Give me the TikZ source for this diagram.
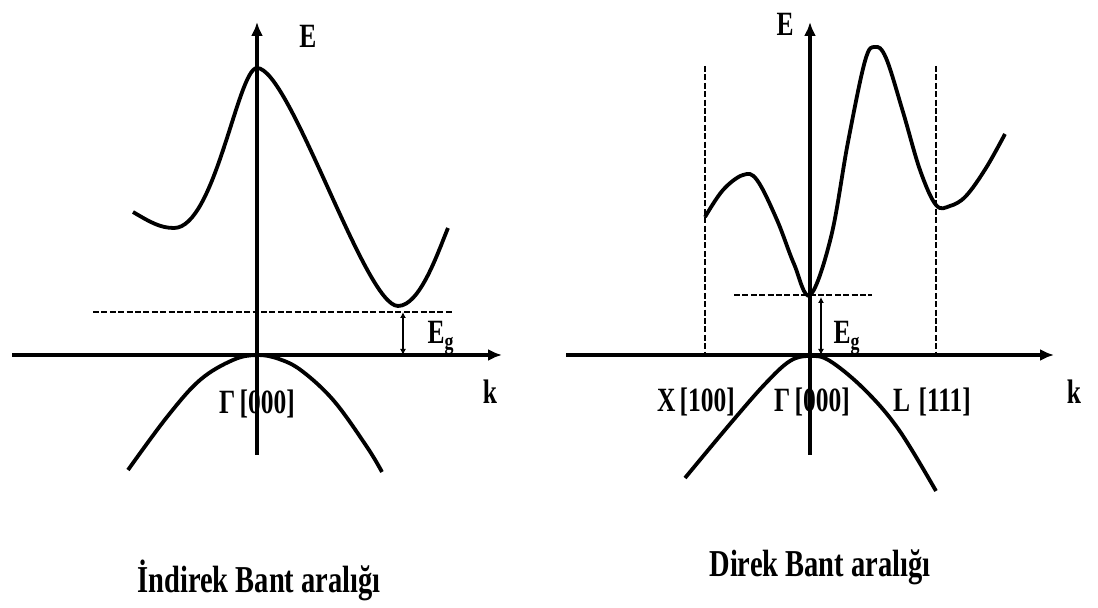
\documentclass[tikz,border=0pt]{standalone}
\usepackage{fontspec}
\setmainfont{Liberation Serif}
\usepackage{graphicx}
\usetikzlibrary{arrows.meta, positioning}
\tikzset{
  axisline/.style={line width=2.2pt, -{Latex[length=7pt, width=6pt]}},
  bandcurve/.style={line width=1.9pt},
  gapline/.style={line width=1.3pt, dash pattern=on 3pt off 1.2pt},
  gaparrow/.style={line width=1.1pt,
    {Latex[length=3pt, width=3pt]}-{Latex[length=3pt, width=3pt]}},
  axislabel/.style={font=\bfseries\fontsize{17}{19}\selectfont},
  pointlabel/.style={font=\bfseries\fontsize{17}{19}\selectfont},
  titlelabel/.style={font=\bfseries\fontsize{19}{21}\selectfont},
}
\newcommand{\narrowtext}[1]{\scalebox{0.75}[1]{#1}}

\begin{document}
\begin{tikzpicture}[x=0.5pt, y=-0.5pt]
  \useasboundingbox (0,0) rectangle (1098,608);

  % Left: indirect band gap
  \coordinate (lkstart) at (12,355);
  \coordinate (lkend) at (502,355);
  \coordinate (lEstart) at (257,455);
  \coordinate (lEend) at (257,22);
  \draw[axisline] (lkstart) -- (lkend);
  \draw[axisline] (lEstart) -- (lEend);
  \node[axislabel] (lE) at (308,36) {\narrowtext{E}};
  \node[axislabel] (lk) at (490,392) {\narrowtext{k}};

  % conduction and valence bands
  \draw[bandcurve] (133,212) .. controls (150,222) and (160,228) .. (174,228)
    .. controls (215,228) and (238,68) .. (257,68)
    .. controls (290,68) and (365,306) .. (398,306)
    .. controls (420,306) and (438,252) .. (448,228);
  \draw[bandcurve] plot[smooth, tension=0.6] coordinates {
    (128,470) (167,417) (200,380) (233,360) (257,355)
    (279,359) (302,371) (334,401) (367,447) (382,472)};

  % gap
  \coordinate (ldashl) at (93,312);
  \coordinate (ldashr) at (454,312);
  \draw[gapline] (ldashl) -- (ldashr);
  \coordinate (lgaptop) at (403,312);
  \coordinate (lgapbot) at (403,355);
  \draw[gaparrow] (lgaptop) -- (lgapbot);
  \node[pointlabel] (lEg) at (441,338) {\narrowtext{E\textsubscript{g}}};
  \node[pointlabel] (lGamma) at (257,404) {\narrowtext{Γ\,[000]}};

  \node[titlelabel] (ltitle) at (259,580) {\narrowtext{İndirek Bant aralığı}};

  % Right: direct band gap
  \coordinate (rkstart) at (566,355);
  \coordinate (rkend) at (1054,355);
  \coordinate (rEstart) at (810,455);
  \coordinate (rEend) at (810,22);
  \draw[axisline] (rkstart) -- (rkend);
  \draw[axisline] (rEstart) -- (rEend);
  \node[axislabel] (rE) at (785,24) {\narrowtext{E}};
  \node[axislabel] (rk) at (1074,392) {\narrowtext{k}};

  % zone edges
  \coordinate (xtop) at (705,66);
  \coordinate (xbot) at (705,355);
  \coordinate (ltop) at (936,66);
  \coordinate (lbot) at (936,355);
  \draw[gapline] (xtop) -- (xbot);
  \draw[gapline] (ltop) -- (lbot);

  % conduction and valence bands
  \draw[bandcurve] plot[smooth, tension=0.6] coordinates {
    (705,217) (723,190) (743,175) (757,180) (777,220) (794,264)
    (810,295) (831,237) (848,142) (865,61) (875,47)
    (886,58) (903,112) (920,170) (936,205) (950,206) (966,196)
    (986,168) (1005,134)};
  \draw[bandcurve] plot[smooth, tension=0.6] coordinates {
    (685,478) (730,424) (765,384) (790,361) (810,356)
    (830,361) (865,390) (899,430) (936,491)};

  % gap
  \coordinate (rdashl) at (734,295);
  \coordinate (rdashr) at (872,295);
  \draw[gapline] (rdashl) -- (rdashr);
  \coordinate (rgaptop) at (821,297);
  \coordinate (rgapbot) at (821,355);
  \draw[gaparrow] (rgaptop) -- (rgapbot);
  \node[pointlabel] (rEg) at (847,338) {\narrowtext{E\textsubscript{g}}};

  \node[pointlabel] (rX) at (696,402) {\narrowtext{X\,[100]}};
  \node[pointlabel] (rGamma) at (812,402) {\narrowtext{Γ\,[000]}};
  \node[pointlabel] (rL) at (932,402) {\narrowtext{L\,\,[111]}};

  \node[titlelabel] (rtitle) at (820,567) {\narrowtext{Direk Bant aralığı}};
\end{tikzpicture}
\end{document}
